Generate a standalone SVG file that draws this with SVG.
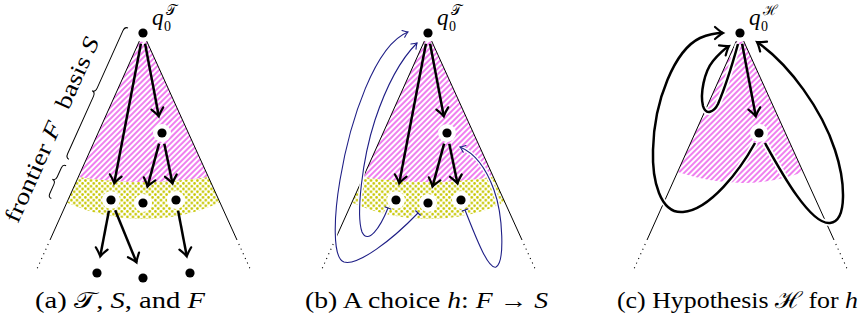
<svg xmlns="http://www.w3.org/2000/svg" width="865" height="326" viewBox="0 0 865 326">
<defs>
<style>
.tri{fill:none;stroke:#000;stroke-width:1}
.dot3{fill:none;stroke:#000;stroke-width:1.1;stroke-dasharray:1.1 4}
.hatch{fill:url(#hatch)}
.yel{fill:url(#dots)}
.halo{fill:#fff}
.nd{fill:#000}
.arr{fill:none;stroke:#000;stroke-width:2.5;marker-end:url(#ah)}
.loop{fill:none;stroke:#000;stroke-width:2.5;marker-end:url(#ah)}
.loopw{fill:none;stroke:#fff;stroke-width:6}
.bl{fill:none;stroke:#1e1e86;stroke-width:1.1;marker-end:url(#bh);marker-start:url(#bar)}
.blw{fill:none;stroke:#fff;stroke-width:4}
.brace{fill:none;stroke:#000;stroke-width:1}
text{font-family:'Liberation Serif','Times New Roman',serif;fill:#000}
.it{font-style:italic}
</style>
<pattern id="hatch" width="4" height="4" patternUnits="userSpaceOnUse" patternTransform="rotate(-45)">
<line x1="0" y1="2" x2="4" y2="2" stroke="#e000e0" stroke-width="1"/>
</pattern>
<pattern id="dots" width="5.6" height="5.6" patternUnits="userSpaceOnUse">
<circle cx="1.4" cy="1.4" r="1.3" fill="#c6c600"/>
<circle cx="4.2" cy="4.2" r="1.3" fill="#c6c600"/>
</pattern>
<marker id="ah" viewBox="-10 -10 20 20" markerWidth="20" markerHeight="20" refX="0" refY="0" orient="auto" markerUnits="userSpaceOnUse">
<path d="M-8,-6 Q-2.7,-1.4 0,0 Q-2.7,1.4 -8,6" fill="none" stroke="#000" stroke-width="2.2" stroke-linecap="round"/>
</marker>
<marker id="bh" viewBox="-8 -8 16 16" markerWidth="16" markerHeight="16" refX="0" refY="0" orient="auto" markerUnits="userSpaceOnUse">
<path d="M-5,-3.6 Q-1.8,-0.9 0,0 Q-1.8,0.9 -5,3.6" fill="none" stroke="#1e1e86" stroke-width="1.1" stroke-linecap="round"/>
</marker>
<marker id="bar" viewBox="-8 -8 16 16" markerWidth="16" markerHeight="16" refX="0" refY="0" orient="auto" markerUnits="userSpaceOnUse">
<line x1="0" y1="-3.6" x2="0" y2="3.6" stroke="#1e1e86" stroke-width="1.1"/>
</marker>
</defs>

<g id="regions-a">
<path class="hatch" d="M143,33 L78.3,177 Q143,187 208.4,177 Z"/>
<path class="yel" d="M78.3,177 Q143,187 208.4,177 L219.9,202.4 A186,186 0 0 1 66.7,202.6 Z"/>
<path class="tri" d="M50,240 L143,33 L237,240"/>
<path class="dot3" d="M48.2,244 L36.5,270 M238.8,244 L250.6,270"/>
</g>
<g id="braces-a">
<g transform="translate(128,28) rotate(114.2)">
<path class="brace" d="M0,0 Q0,3.5 4.5,3.5 L67.5,3.5 Q72,3.5 72,7 Q72,3.5 76.5,3.5 L139.5,3.5 Q144,3.5 144,0"/>
<path class="brace" d="M151,0 Q151,3.5 155,3.5 L165,3.5 Q169,3.5 169,7 Q169,3.5 173,3.5 L183,3.5 Q187,3.5 187,0"/>
</g>
<text font-size="23" text-anchor="middle" textLength="76" lengthAdjust="spacingAndGlyphs" transform="translate(84,76) rotate(-65.8)">basis <tspan class="it">S</tspan></text>
<text font-size="23" text-anchor="middle" textLength="108" lengthAdjust="spacingAndGlyphs" transform="translate(40,175) rotate(-65.8)">frontier <tspan class="it">F</tspan></text>
</g>

<g id="regions-b">
<path class="hatch" d="M428,33 L363.3,177 Q428,187 493.4,177 Z"/>
<path class="yel" d="M363.3,177 Q428,187 493.4,177 L504.9,202.4 A186,186 0 0 1 351.7,202.6 Z"/>
<path class="tri" d="M335,240 L428,33 L522,240"/>
<path class="dot3" d="M333.2,244 L321.5,270 M523.8,244 L535.6,270"/>
</g>

<g id="regions-c">
<path class="hatch" d="M740,33 L677.6,172 Q745,194 803.1,172 Z"/>
<path class="tri" d="M647,240 L740,33 L834,240"/>
<path class="dot3" d="M645.2,244 L633.5,270 M835.8,244 L847.6,270"/>
</g>

<g id="node-a-root"><circle class="halo" cx="143" cy="33" r="9"/><circle class="nd" cx="143" cy="33" r="4.6"/></g>
<g id="node-a-n1"><circle class="halo" cx="162" cy="133" r="9"/><circle class="nd" cx="162" cy="133" r="4.6"/></g>
<g id="node-a-f1"><circle class="halo" cx="111" cy="200" r="9"/><circle class="nd" cx="111" cy="200" r="4.6"/></g>
<g id="node-a-f2"><circle class="halo" cx="143" cy="203" r="9"/><circle class="nd" cx="143" cy="203" r="4.6"/></g>
<g id="node-a-f3"><circle class="halo" cx="176" cy="200" r="9"/><circle class="nd" cx="176" cy="200" r="4.6"/></g>
<g id="node-a-b1"><circle class="nd" cx="97" cy="273" r="4.6"/></g>
<g id="node-a-b2"><circle class="nd" cx="143" cy="278" r="4.6"/></g>
<g id="node-a-b3"><circle class="nd" cx="190" cy="273" r="4.6"/></g>

<g id="node-b-root"><circle class="halo" cx="428" cy="33" r="9"/><circle class="nd" cx="428" cy="33" r="4.6"/></g>
<g id="node-b-n1"><circle class="halo" cx="447" cy="133" r="9"/><circle class="nd" cx="447" cy="133" r="4.6"/></g>
<g id="node-b-f1"><circle class="halo" cx="396" cy="200" r="9"/><circle class="nd" cx="396" cy="200" r="4.6"/></g>
<g id="node-b-f2"><circle class="halo" cx="428" cy="203" r="9"/><circle class="nd" cx="428" cy="203" r="4.6"/></g>
<g id="node-b-f3"><circle class="halo" cx="461" cy="200" r="9"/><circle class="nd" cx="461" cy="200" r="4.6"/></g>

<g id="node-c-root"><circle class="halo" cx="740" cy="33" r="9"/><circle class="nd" cx="740" cy="33" r="4.6"/></g>
<g id="node-c-n1"><circle class="halo" cx="759" cy="133" r="9"/><circle class="nd" cx="759" cy="133" r="4.6"/></g>

<g id="connectors">
<path class="arr" d="M140.9,43.8 L114.2,183.3"/>
<path class="arr" d="M145.1,43.8 L158.8,116.3"/>
<path class="arr" d="M159.1,143.6 L147.5,186.6"/>
<path class="arr" d="M164.3,143.8 L172.5,183.4"/>
<path class="arr" d="M108.9,210.8 L100.2,256.3"/>
<path class="arr" d="M115.2,210.2 L136.5,262.3"/>
<path class="arr" d="M178.1,210.8 L186.8,256.3"/>

<path class="arr" d="M425.9,43.8 L399.2,183.3"/>
<path class="arr" d="M430.1,43.8 L443.8,116.3"/>
<path class="arr" d="M444.1,143.6 L432.5,186.6"/>
<path class="arr" d="M449.3,143.8 L457.5,183.4"/>

<path class="blw" d="M418,213 C 392,240 358,266 344,262 C 332,258 334,215 340,180 C 350,120 375,45 408,32"/>
<path class="bl" d="M418,213 C 392,240 358,266 344,262 C 332,258 334,215 340,180 C 350,120 375,45 408,32"/>
<path class="blw" d="M388,208 C 380,228 368,245 362,232 C 356,215 362,160 375,120 C 385,90 400,60 417,43"/>
<path class="bl" d="M388,208 C 380,228 368,245 362,232 C 356,215 362,160 375,120 C 385,90 400,60 417,43"/>
<path class="blw" d="M465,210 C 475,235 488,270 496,267 C 505,262 503,215 494,190 C 485,165 472,152 460,147"/>
<path class="bl" d="M465,210 C 475,235 488,270 496,267 C 505,262 503,215 494,190 C 485,165 472,152 460,147"/>

<path class="arr" d="M742.1,43.8 L755.8,116.3"/>
<path class="loopw" d="M738,44 C 733,62 724,90 718,104 C 714,112 706,116 703,106 C 700,94 704,72 713,61 C 718,55 723,50 729,46"/>
<path class="loop" d="M738,44 C 733,62 724,90 718,104 C 714,112 706,116 703,106 C 700,94 704,72 713,61 C 718,55 723,50 729,46"/>
<path class="loopw" d="M755,143 C 740,170 710,210 683,212 C 660,214 652,180 653,150 C 654,100 675,50 700,38 C 707,35 715,33 723,33"/>
<path class="loop" d="M755,143 C 740,170 710,210 683,212 C 660,214 652,180 653,150 C 654,100 675,50 700,38 C 707,35 715,33 723,33"/>
<path class="loopw" d="M765,143 C 780,170 810,225 830,223 C 848,221 845,180 835,150 C 822,110 790,65 757,42"/>
<path class="loop" d="M765,143 C 780,170 810,225 830,223 C 848,221 845,180 835,150 C 822,110 790,65 757,42"/>
</g>

<g id="labels">
<text class="it" x="152" y="25" font-size="23">q</text>
<text x="164" y="31" font-size="14">0</text>
<text x="166" y="15" font-size="14">𝒯</text>
<text class="it" x="437" y="25" font-size="23">q</text>
<text x="449" y="31" font-size="14">0</text>
<text x="451" y="15" font-size="14">𝒯</text>
<text class="it" x="749" y="25" font-size="23">q</text>
<text x="761" y="31" font-size="14">0</text>
<text x="763" y="15" font-size="14">ℋ</text>

<text x="35" y="308" font-size="23" textLength="170" lengthAdjust="spacingAndGlyphs">(a) 𝒯, <tspan class="it">S</tspan>, and <tspan class="it">F</tspan></text>
<text x="305" y="308" font-size="23" textLength="243" lengthAdjust="spacingAndGlyphs">(b) A choice <tspan class="it">h</tspan>: <tspan class="it">F</tspan> → <tspan class="it">S</tspan></text>
<text x="617" y="308" font-size="23" textLength="241" lengthAdjust="spacingAndGlyphs">(c) Hypothesis ℋ for <tspan class="it">h</tspan></text>
</g>
</svg>
